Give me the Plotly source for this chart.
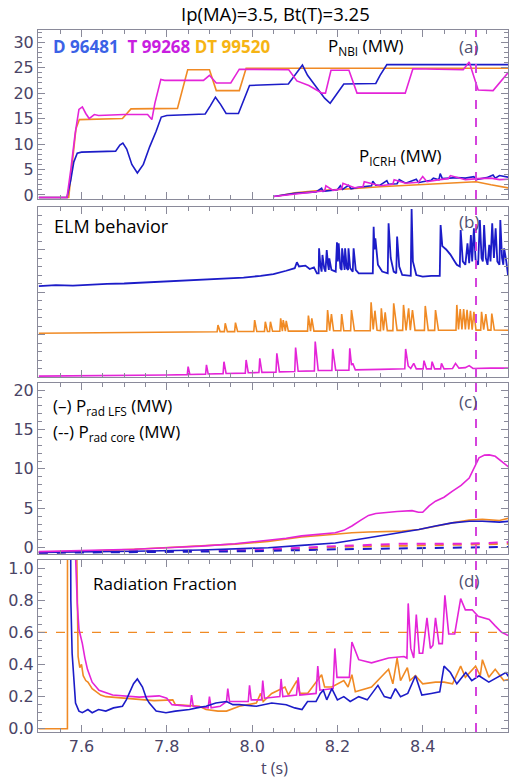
import plotly.graph_objects as go
from plotly.subplots import make_subplots

# ---------------- data ----------------
# (a) NBI power (MW)
t_nbi_D = [7.50, 7.566, 7.575, 7.582, 7.590, 7.600, 7.680, 7.690, 7.697, 7.706, 7.718, 7.731, 7.745, 7.760, 7.775, 7.787,
           7.800, 7.890, 7.902, 7.914, 7.926, 7.939, 7.968, 7.980, 7.994, 8.085, 8.100, 8.118, 8.130, 8.156, 8.170, 8.183,
           8.195, 8.215, 8.290, 8.300, 8.316, 8.606]
nbi_D = [-0.5, -0.5, 3.0, 6.5, 8.2, 8.4, 8.6, 9.8, 10.2, 9.0, 6.0, 4.3, 6.0, 9.5, 12.5, 15.3,
         15.6, 15.9, 17.5, 19.2, 17.8, 16.0, 16.0, 18.5, 21.5, 21.8, 23.5, 25.5, 23.5, 20.5, 19.0, 18.0,
         19.5, 21.8, 21.9, 23.5, 25.6, 25.6]
t_nbi_T = [7.50, 7.566, 7.575, 7.585, 7.594, 7.602, 7.610, 7.618, 7.630, 7.640, 7.700, 7.755, 7.765, 7.772, 7.786, 7.795,
           7.886, 7.900, 7.916, 7.950, 7.970, 8.086, 8.105, 8.133, 8.164, 8.172, 8.185, 8.227, 8.246, 8.359, 8.377,
           8.495, 8.509, 8.520, 8.530, 8.565, 8.585, 8.606]
nbi_T = [-0.5, -0.5, 5.0, 12.0, 16.8, 17.3, 16.0, 15.0, 15.8, 15.6, 15.8, 15.8, 14.8, 18.0, 22.7, 22.5,
         22.5, 23.5, 22.0, 22.0, 24.7, 24.6, 22.4, 21.5, 20.0, 20.0, 24.5, 24.5, 20.0, 20.0, 24.8,
         24.6, 26.1, 23.0, 20.6, 20.5, 22.5, 24.6]
t_nbi_DT = [7.50, 7.570, 7.578, 7.587, 7.595, 7.696, 7.716, 7.825, 7.849, 7.900, 7.916, 7.970, 7.986, 8.606]
nbi_DT = [-0.5, -0.5, 6.0, 13.0, 14.8, 15.0, 16.9, 17.0, 24.6, 24.6, 20.5, 20.5, 24.9, 24.9]

# (a) ICRH power (MW)
t_icrh_D = [8.05, 8.10, 8.15, 8.163, 8.166, 8.20, 8.207, 8.212, 8.226, 8.232, 8.25, 8.28, 8.283, 8.29, 8.30, 8.316,
            8.32, 8.34, 8.345, 8.36, 8.385, 8.39, 8.40, 8.42, 8.425, 8.438, 8.441, 8.446, 8.48, 8.50, 8.52, 8.525,
            8.55, 8.565, 8.57, 8.58, 8.606]
icrh_D = [-0.3, 0.3, 0.6, 1.3, 0.7, 1.0, 1.8, 1.1, 1.9, 1.2, 1.5, 1.8, 2.7, 1.9, 1.9, 2.8,
          2.1, 2.2, 3.0, 2.3, 3.1, 2.4, 2.6, 2.9, 3.3, 3.0, 4.2, 3.2, 3.4, 3.3, 3.6, 3.0,
          3.4, 3.9, 3.3, 3.8, 3.4]
t_icrh_T = [8.05, 8.10, 8.15, 8.17, 8.173, 8.19, 8.21, 8.213, 8.24, 8.26, 8.263, 8.30, 8.33, 8.333, 8.36, 8.39,
            8.40, 8.41, 8.44, 8.46, 8.465, 8.50, 8.53, 8.56, 8.58, 8.606]
icrh_T = [-0.3, 0.2, 0.6, 0.8, 1.8, 0.9, 1.2, 2.3, 1.4, 1.6, 2.6, 1.8, 2.1, 3.0, 2.3, 2.5,
          3.6, 2.6, 3.0, 3.2, 3.8, 3.0, 3.2, 3.3, 3.0, 3.1]
t_icrh_DT = [8.06, 8.10, 8.15, 8.20, 8.25, 8.30, 8.35, 8.42, 8.50, 8.525, 8.56, 8.606]
icrh_DT = [-0.2, 0.4, 0.8, 1.0, 1.3, 1.6, 1.8, 2.1, 2.4, 2.6, 2.0, 1.3]

# (b) ELM behaviour (arb. units, offset traces)
t_elm_D = [7.500, 7.540, 7.580, 7.620, 7.660, 7.700, 7.740, 7.780, 7.820, 7.860, 7.900, 7.940, 7.980, 8.020, 8.050,
           8.080, 8.100, 8.105, 8.110, 8.125, 8.135, 8.145, 8.152, 8.156, 8.157, 8.160, 8.163, 8.165, 8.169, 8.172,
           8.175, 8.178, 8.180, 8.181, 8.186, 8.196, 8.199, 8.201, 8.203, 8.207, 8.210, 8.211, 8.215, 8.217, 8.218,
           8.222, 8.225, 8.226, 8.230, 8.236, 8.238, 8.243, 8.250, 8.270, 8.283, 8.285, 8.287, 8.289, 8.295, 8.305,
           8.318, 8.320, 8.325, 8.332, 8.338, 8.340, 8.345, 8.352, 8.372, 8.374, 8.377, 8.385, 8.400, 8.420, 8.440,
           8.442, 8.446, 8.455, 8.465, 8.475, 8.480, 8.487, 8.489, 8.494, 8.500, 8.505, 8.509, 8.513, 8.516, 8.520,
           8.524, 8.530, 8.534, 8.538, 8.541, 8.544, 8.548, 8.552, 8.556, 8.559, 8.563, 8.567, 8.571, 8.575, 8.580,
           8.582, 8.586, 8.589, 8.591, 8.596, 8.600, 8.605]
elm_D = [5.35, 5.40, 5.38, 5.45, 5.48, 5.50, 5.55, 5.60, 5.65, 5.70, 5.75, 5.80, 5.85, 5.95, 6.05,
         6.25, 6.40, 6.75, 6.50, 6.55, 6.35, 6.45, 6.10, 6.10, 7.57, 6.60, 6.20, 7.18, 6.40, 6.20,
         7.47, 6.60, 6.30, 6.98, 6.30, 6.20, 7.92, 6.80, 7.86, 6.40, 6.30, 7.57, 6.40, 6.30, 7.57,
         6.40, 6.30, 7.57, 6.40, 6.20, 7.57, 6.30, 6.10, 6.10, 6.10, 8.84, 7.50, 8.16, 6.60, 6.20,
         6.10, 9.04, 7.00, 6.20, 6.10, 8.26, 6.50, 6.00, 5.95, 9.88, 6.80, 6.00, 5.90, 5.95, 5.95,
         8.94, 7.70, 7.50, 7.20, 6.80, 6.60, 6.50, 8.65, 6.80, 6.60, 7.86, 6.70, 8.35, 6.80, 8.75,
         6.90, 6.60, 9.24, 7.00, 6.80, 8.94, 7.00, 6.60, 7.77, 6.80, 9.04, 7.00, 8.75, 6.80, 6.60,
         9.24, 7.00, 6.60, 7.57, 6.80, 6.00, 5.90]
t_elm_DT = [7.500, 7.600, 7.700, 7.800, 7.918, 7.920, 7.925, 7.935, 7.937, 7.942, 7.959, 7.961, 7.966, 8.004, 8.006,
            8.011, 8.029, 8.031, 8.036, 8.041, 8.043, 8.048, 8.065, 8.067, 8.071, 8.073, 8.078, 8.080, 8.085, 8.130,
            8.132, 8.137, 8.140, 8.145, 8.175, 8.177, 8.182, 8.186, 8.191, 8.208, 8.210, 8.215, 8.231, 8.233, 8.240,
            8.277, 8.279, 8.284, 8.288, 8.293, 8.301, 8.303, 8.308, 8.312, 8.317, 8.330, 8.332, 8.340, 8.353, 8.355,
            8.361, 8.367, 8.371, 8.376, 8.382, 8.404, 8.406, 8.413, 8.428, 8.430, 8.437, 8.478, 8.480, 8.484, 8.488,
            8.492, 8.496, 8.500, 8.504, 8.508, 8.512, 8.516, 8.520, 8.525, 8.536, 8.538, 8.543, 8.548, 8.553, 8.560,
            8.562, 8.568, 8.605]
elm_DT = [2.57, 2.60, 2.62, 2.65, 2.66, 3.06, 2.67, 2.67, 3.16, 2.67, 2.67, 3.20, 2.68, 2.68, 3.35,
          2.68, 2.68, 3.25, 2.68, 2.68, 3.25, 2.69, 2.69, 3.45, 2.69, 3.35, 2.70, 3.30, 2.70, 2.70,
          3.61, 2.70, 3.45, 2.70, 2.70, 3.94, 2.72, 3.70, 2.72, 2.72, 3.70, 2.72, 2.72, 3.94, 2.72,
          2.72, 4.39, 2.80, 3.90, 2.75, 2.73, 4.04, 2.74, 3.80, 2.73, 2.73, 4.33, 2.74, 2.74, 4.24,
          2.74, 4.04, 2.75, 3.94, 2.74, 2.74, 4.18, 2.74, 2.74, 3.94, 2.75, 2.75, 4.24, 2.80, 4.00,
          2.80, 4.00, 2.80, 3.95, 2.80, 3.90, 2.78, 3.84, 2.76, 2.76, 3.84, 2.78, 3.70, 2.76, 2.76,
          3.73, 2.76, 2.75]
t_elm_T = [7.500, 7.600, 7.700, 7.800, 7.848, 7.850, 7.854, 7.891, 7.893, 7.897, 7.932, 7.934, 7.939, 7.984, 7.986,
           7.991, 8.016, 8.018, 8.023, 8.056, 8.058, 8.064, 8.100, 8.102, 8.108, 8.146, 8.148, 8.155, 8.187, 8.189,
           8.196, 8.227, 8.229, 8.233, 8.236, 8.242, 8.300, 8.340, 8.358, 8.360, 8.366, 8.372, 8.379, 8.385, 8.401,
           8.403, 8.409, 8.420, 8.422, 8.428, 8.442, 8.444, 8.450, 8.470, 8.477, 8.485, 8.500, 8.509, 8.518, 8.560,
           8.605]
elm_T = [0.05, 0.06, 0.08, 0.12, 0.14, 0.61, 0.15, 0.17, 0.71, 0.18, 0.20, 0.90, 0.21, 0.23, 1.00,
         0.25, 0.26, 1.10, 0.27, 0.28, 1.39, 0.30, 0.32, 1.73, 0.34, 0.36, 2.08, 0.38, 0.38, 1.65,
         0.40, 0.40, 1.69, 0.70, 0.80, 0.42, 0.45, 0.48, 0.48, 1.65, 0.65, 0.50, 0.80, 0.48, 0.48,
         0.96, 0.48, 0.48, 0.90, 0.48, 0.48, 0.80, 0.48, 0.50, 0.80, 0.52, 0.55, 0.67, 0.50, 0.52,
         0.52]

# (c) radiated power (MW): solid = LFS, dashed = core
t_rad_T = [7.50, 7.60, 7.724, 7.80, 7.881, 7.96, 8.038, 8.08, 8.116, 8.16, 8.195, 8.215, 8.234, 8.255, 8.273, 8.29,
           8.312, 8.34, 8.375, 8.39, 8.40, 8.415, 8.43, 8.45, 8.469, 8.49, 8.509, 8.52, 8.532, 8.545, 8.556, 8.57,
           8.58, 8.595, 8.605]
rad_T = [-0.5, -0.4, -0.2, 0.0, 0.2, 0.5, 0.9, 1.2, 1.5, 1.7, 1.9, 2.2, 2.75, 3.5, 4.1, 4.35,
         4.5, 4.6, 4.7, 4.5, 4.5, 5.3, 5.9, 6.4, 7.15, 7.9, 8.83, 10.0, 11.4, 11.75, 11.78, 11.6,
         11.15, 10.5, 10.1]
t_rad_DT = [7.50, 7.60, 7.724, 7.80, 7.881, 7.96, 8.038, 8.116, 8.195, 8.234, 8.273, 8.352, 8.391, 8.43, 8.469, 8.509,
            8.54, 8.58, 8.605]
rad_DT = [-0.55, -0.45, -0.2, 0.0, 0.2, 0.45, 0.8, 1.35, 1.7, 1.9, 2.0, 2.1, 2.3, 2.73, 3.15, 3.5,
          3.6, 3.45, 3.8]
t_rad_D = [7.50, 7.60, 7.724, 7.881, 8.038, 8.116, 8.195, 8.273, 8.352, 8.391, 8.43, 8.469, 8.509, 8.54, 8.58, 8.605]
rad_D = [-0.6, -0.55, -0.45, -0.3, 0.0, 0.3, 0.6, 1.26, 1.9, 2.3, 2.75, 3.15, 3.36, 3.36, 3.24, 3.36]
t_core_T = [7.50, 8.00, 8.20, 8.35, 8.50, 8.605]
core_T = [-0.6, -0.3, 0.2, 0.5, 0.5, 0.7]
t_core_DT = [7.50, 8.00, 8.20, 8.40, 8.605]
core_DT = [-0.6, -0.35, 0.1, 0.3, 0.5]
t_core_D = [7.50, 8.00, 8.20, 8.40, 8.605]
core_D = [-0.65, -0.45, -0.2, -0.05, 0.1]

# (d) radiation fraction
t_frad_D = [7.5745, 7.575, 7.578, 7.582, 7.586, 7.594, 7.602, 7.615, 7.625, 7.640, 7.657, 7.675, 7.696, 7.705, 7.712,
            7.722, 7.731, 7.743, 7.752, 7.759, 7.775, 7.798, 7.820, 7.853, 7.870, 7.892, 7.915, 7.940, 7.955, 7.970,
            8.010, 8.046, 8.080, 8.100, 8.117, 8.130, 8.150, 8.160, 8.167, 8.175, 8.187, 8.200, 8.215, 8.230, 8.250,
            8.270, 8.295, 8.310, 8.325, 8.336, 8.348, 8.365, 8.383, 8.398, 8.420, 8.440, 8.450, 8.465, 8.480, 8.501,
            8.515, 8.532, 8.555, 8.575, 8.595, 8.605]
frad_D = [1.3, 0.8, 0.47, 0.3, 0.16, 0.11, 0.10, 0.12, 0.10, 0.12, 0.11, 0.13, 0.14, 0.18, 0.22,
          0.28, 0.31, 0.26, 0.19, 0.16, 0.11, 0.10, 0.11, 0.12, 0.13, 0.14, 0.16, 0.17, 0.15, 0.15,
          0.14, 0.16, 0.15, 0.13, 0.12, 0.17, 0.17, 0.22, 0.24, 0.18, 0.25, 0.18, 0.20, 0.17, 0.20,
          0.18, 0.27, 0.20, 0.19, 0.25, 0.20, 0.22, 0.33, 0.21, 0.22, 0.23, 0.39, 0.35, 0.28, 0.35,
          0.30, 0.33, 0.29, 0.32, 0.35, 0.31]
t_frad_T = [7.583, 7.586, 7.590, 7.594, 7.602, 7.608, 7.614, 7.625, 7.641, 7.673, 7.735, 7.782, 7.800, 7.812, 7.855,
            7.858, 7.862, 7.897, 7.900, 7.904, 7.925, 7.940, 7.943, 7.947, 7.991, 7.994, 7.998, 8.022, 8.025, 8.029,
            8.065, 8.068, 8.072, 8.104, 8.108, 8.112, 8.150, 8.154, 8.159, 8.190, 8.194, 8.199, 8.228, 8.234, 8.240,
            8.250, 8.280, 8.320, 8.356, 8.363, 8.366, 8.372, 8.379, 8.385, 8.392, 8.400, 8.410, 8.418, 8.424, 8.430,
            8.438, 8.446, 8.452, 8.461, 8.475, 8.489, 8.500, 8.516, 8.530, 8.556, 8.570, 8.585, 8.605]
frad_T = [1.3, 1.05, 0.78, 0.62, 0.53, 0.44, 0.37, 0.29, 0.24, 0.21, 0.197, 0.205, 0.19, 0.15, 0.14,
          0.21, 0.14, 0.13, 0.20, 0.13, 0.14, 0.17, 0.25, 0.17, 0.17, 0.27, 0.18, 0.18, 0.30, 0.19,
          0.20, 0.31, 0.20, 0.21, 0.32, 0.21, 0.22, 0.39, 0.24, 0.25, 0.50, 0.32, 0.32, 0.54, 0.50,
          0.43, 0.41, 0.44, 0.45, 0.44, 0.78, 0.50, 0.44, 0.71, 0.47, 0.47, 0.69, 0.50, 0.52, 0.69,
          0.53, 0.53, 0.83, 0.59, 0.59, 0.81, 0.74, 0.74, 0.70, 0.68, 0.64, 0.60, 0.575]
t_frad_DT = [7.50, 7.567, 7.5672, 7.588, 7.592, 7.596, 7.600, 7.604, 7.610, 7.615, 7.625, 7.634, 7.645, 7.657, 7.700,
             7.735, 7.770, 7.814, 7.820, 7.876, 7.892, 7.920, 7.940, 7.970, 7.990, 8.010, 8.020, 8.026, 8.046, 8.077,
             8.085, 8.105, 8.112, 8.130, 8.163, 8.170, 8.187, 8.215, 8.225, 8.234, 8.242, 8.280, 8.320, 8.330, 8.340,
             8.348, 8.364, 8.370, 8.383, 8.400, 8.430, 8.450, 8.470, 8.489, 8.500, 8.524, 8.535, 8.540, 8.555, 8.570,
             8.590, 8.605]
frad_DT = [0.0, 0.0, 1.3, 1.3, 0.45, 0.38, 0.40, 0.33, 0.30, 0.29, 0.25, 0.23, 0.21, 0.20, 0.19,
           0.18, 0.175, 0.18, 0.15, 0.14, 0.12, 0.11, 0.11, 0.14, 0.15, 0.16, 0.22, 0.17, 0.22, 0.26,
           0.21, 0.30, 0.22, 0.22, 0.336, 0.26, 0.26, 0.30, 0.26, 0.336, 0.23, 0.26, 0.37, 0.28, 0.44,
           0.30, 0.38, 0.30, 0.33, 0.28, 0.29, 0.29, 0.28, 0.39, 0.32, 0.39, 0.33, 0.43, 0.32, 0.37,
           0.30, 0.31]
frad_ref = 0.6
t_marker = 8.525

# ---------------- styling ----------------
C_D = "#1c1cc8"
C_T = "#e424d8"
C_DT = "#f08a24"
TXT_D = "#3b62e6"
TXT_T = "#c81ee0"
TXT_DT = "#f6b414"
AX = "#8a8a9a"
TICKC = "#4a4466"
FONT = "Open Sans"

fig = make_subplots(rows=4, cols=1, shared_xaxes=True)

def line(x, y, color, row, dash=None, width=1.6):
    fig.add_trace(go.Scatter(x=x, y=y, mode="lines", line=dict(color=color, width=width, dash=dash),
                             showlegend=False, hoverinfo="skip"), row=row, col=1)

# (a)
line(t_icrh_DT, icrh_DT, C_DT, 1)
line(t_icrh_D, icrh_D, C_D, 1)
line(t_icrh_T, icrh_T, C_T, 1)
line(t_nbi_DT, nbi_DT, C_DT, 1)
line(t_nbi_D, nbi_D, C_D, 1)
line(t_nbi_T, nbi_T, C_T, 1)
# (b)
line(t_elm_D, elm_D, C_D, 2, width=1.8)
line(t_elm_DT, elm_DT, C_DT, 2)
line(t_elm_T, elm_T, C_T, 2)
# (c)
line(t_core_DT, core_DT, C_DT, 3, dash="dash", width=2)
line(t_core_T, core_T, C_T, 3, dash="dash", width=2)
line(t_core_D, core_D, C_D, 3, dash="dash", width=2)
line(t_rad_DT, rad_DT, C_DT, 3)
line(t_rad_D, rad_D, C_D, 3)
line(t_rad_T, rad_T, C_T, 3)
# (d)
fig.add_trace(go.Scatter(x=[7.498, 8.6], y=[frad_ref, frad_ref], mode="lines",
                         line=dict(color=C_DT, width=1.4, dash="dash"), showlegend=False, hoverinfo="skip"),
              row=4, col=1)
line(t_frad_DT, frad_DT, C_DT, 4)
line(t_frad_T, frad_T, C_T, 4)
line(t_frad_D, frad_D, C_D, 4)

# vertical marker in every panel
for r in range(1, 5):
    fig.add_vline(x=t_marker, line=dict(color="#d444dc", width=2, dash="dash"), row=r, col=1)

H_TOP, H_BOT = 30, 48
PH = 780 - H_TOP - H_BOT
def dom(top, bot):
    return [(732 - bot) / PH, (732 - top) / PH]

domains = [dom(30, 199), dom(207, 377), dom(383, 554), dom(560, 732)]
yranges = [[-0.8, 32.4], [0, 10], [-0.8, 20.9], [-0.02, 1.05]]
ydticks = [5, 2.5, 5, 0.2]
yminor = [1, 0.5, 1, 0.05]

common_ax = dict(showline=True, linecolor=AX, linewidth=1, mirror="allticks", ticks="inside",
                 tickcolor=AX, ticklen=7, showgrid=False, zeroline=False,
                 tickfont=dict(family="DejaVu Sans", size=16, color=TICKC))

for i in range(4):
    n = "" if i == 0 else str(i + 1)
    fig.layout["yaxis" + n].update(
        domain=domains[i], range=yranges[i], dtick=ydticks[i], tick0=0,
        showticklabels=(i != 1),
        minor=dict(ticks="inside", dtick=yminor[i], ticklen=4, tickcolor=AX, showgrid=False),
        **common_ax)
    if i == 3:
        fig.layout["yaxis" + n].tickformat = ".1f"
    fig.layout["xaxis" + n].update(
        range=[7.498, 8.6], dtick=0.2, tick0=7.6, showticklabels=(i == 3),
        minor=dict(ticks="inside", dtick=0.05, ticklen=4, tickcolor=AX, showgrid=False),
        tickformat=".1f", **common_ax)

def ann(text, px, py, size=17, color="black", anchor="left"):
    fig.add_annotation(text=text, xref="paper", yref="paper", x=(px - 38) / 470, y=(732 - py) / PH,
                       xanchor=anchor, yanchor="middle", showarrow=False,
                       font=dict(family=FONT, size=size, color=color))

ann("Ip(MA)=3.5, Bt(T)=3.25", 275, 14, size=18.5, anchor="center")
ann(f"<b><span style='color:{TXT_D}'>D 96481</span>  <span style='color:{TXT_T}'>T 99268</span>"
    f" <span style='color:{TXT_DT}'>DT 99520</span></b>", 51, 47, size=17)
ann("P<sub>NBI</sub> (MW)", 326, 47, size=17)
ann("(a)", 457, 47, size=17, color="#505070")
ann("P<sub>ICRH</sub> (MW)", 357, 157, size=17)
ann("ELM behavior", 52, 226, size=18)
ann("(b)", 457, 221, size=17, color="#505070")
ann("(–) P<sub>rad LFS</sub> (MW)", 51, 407, size=17)
ann("(--) P<sub>rad core</sub> (MW)", 51, 432, size=17)
ann("(c)", 457, 401, size=17, color="#505070")
ann("Radiation Fraction", 91, 583, size=17)
ann("(d)", 457, 580, size=17, color="#505070")
ann("t (s)", 274, 768, size=16, color=TICKC, anchor="center")

fig.update_layout(width=510, height=780, margin=dict(l=38, r=2, t=H_TOP, b=H_BOT),
                  paper_bgcolor="white", plot_bgcolor="white", showlegend=False)

fig.write_html("out.html")
